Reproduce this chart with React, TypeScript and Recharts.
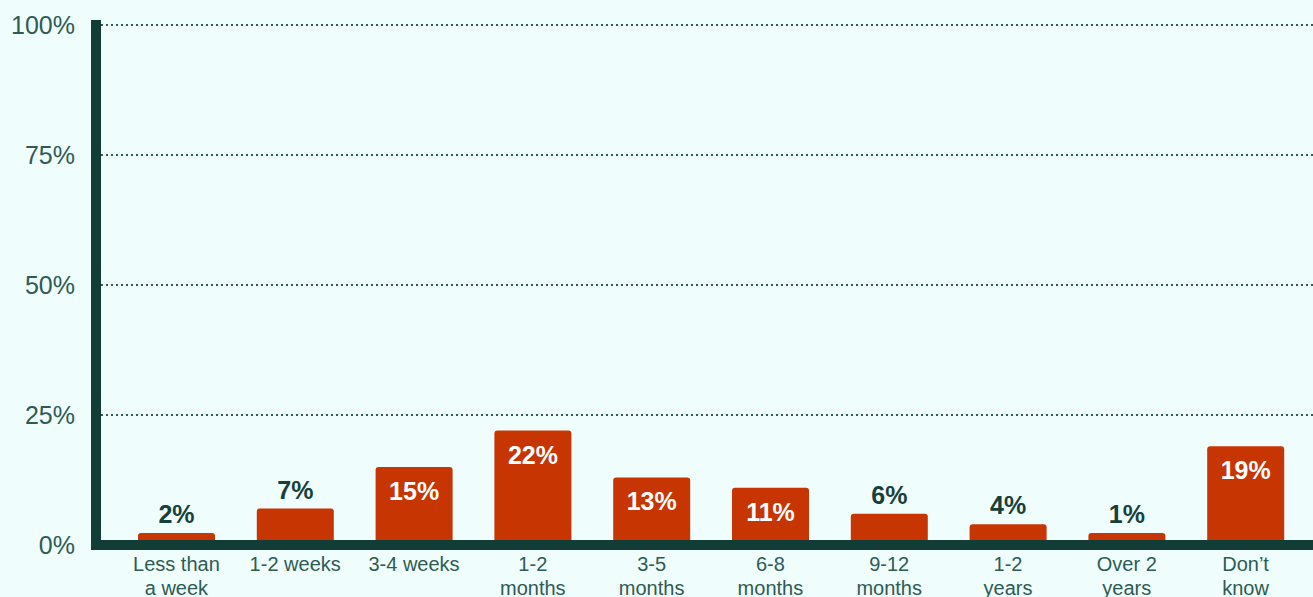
import { BarChart, Bar, XAxis, YAxis, CartesianGrid, LabelList } from 'recharts';

const categories = [
  'Less than\na week',
  '1-2 weeks',
  '3-4 weeks',
  '1-2\nmonths',
  '3-5\nmonths',
  '6-8\nmonths',
  '9-12\nmonths',
  '1-2\nyears',
  'Over 2\nyears',
  'Don\u2019t\nknow',
];
const shares = [2, 7, 15, 22, 13, 11, 6, 4, 1, 19];
const yTicks = [0, 25, 50, 75, 100];

const data = categories.map((label, i) => ({ label, share: shares[i] }));

const FONT = 'Arial, "Liberation Sans", sans-serif';
const DARK = '#123d36';
const TEXT = '#2e5b52';
const BAR = '#c73502';

function CategoryTick(props: any) {
  const { x, y, payload } = props;
  const lines = String(payload.value).split('\n');
  return (
    <text x={x} y={y} textAnchor="middle" fill={TEXT} fontSize={20} fontFamily={FONT}>
      {lines.map((line, i) => (
        <tspan key={i} x={x} dy={i === 0 ? 18 : 24}>
          {line}
        </tspan>
      ))}
    </text>
  );
}

function ValueLabel(props: any) {
  const { x, y, width, value } = props;
  const inside = value >= 10;
  return (
    <text
      x={x + width / 2}
      y={inside ? y + 24 : y - 19}
      textAnchor="middle"
      dominantBaseline="central"
      fill={inside ? '#ffffff' : '#17403a'}
      fontSize={25}
      fontWeight="bold"
      fontFamily={FONT}
    >
      {value}%
    </text>
  );
}

export default function App() {
  return (
    <div
      style={{
        position: 'fixed',
        left: 0,
        top: 0,
        width: 1313,
        height: 597,
        background: '#effdfd',
        overflow: 'hidden',
      }}
    >
      <BarChart
        width={1313}
        height={597}
        data={data}
        margin={{ top: 25, right: 0, bottom: 0, left: 0 }}
      >
        <CartesianGrid
          vertical={false}
          stroke={TEXT}
          strokeWidth={2}
          strokeDasharray="2 3"
        />
        <XAxis
          dataKey="label"
          interval={0}
          height={52}
          tickLine={false}
          tick={<CategoryTick />}
          padding={{ left: 21, right: 8 }}
          axisLine={{ stroke: DARK, strokeWidth: 10, strokeLinecap: 'square' }}
        />
        <YAxis
          width={96}
          domain={[0, 100]}
          ticks={yTicks}
          tickFormatter={(v: number) => `${v}%`}
          tickLine={false}
          tickMargin={15}
          axisLine={{ stroke: DARK, strokeWidth: 10, strokeLinecap: 'square' }}
          tick={{ fill: TEXT, fontSize: 25, fontFamily: FONT }}
        />
        <Bar
          dataKey="share"
          fill={BAR}
          barSize={77}
          radius={[3, 3, 0, 0]}
          minPointSize={12}
          isAnimationActive={false}
        >
          <LabelList dataKey="share" content={<ValueLabel />} />
        </Bar>
      </BarChart>
    </div>
  );
}
